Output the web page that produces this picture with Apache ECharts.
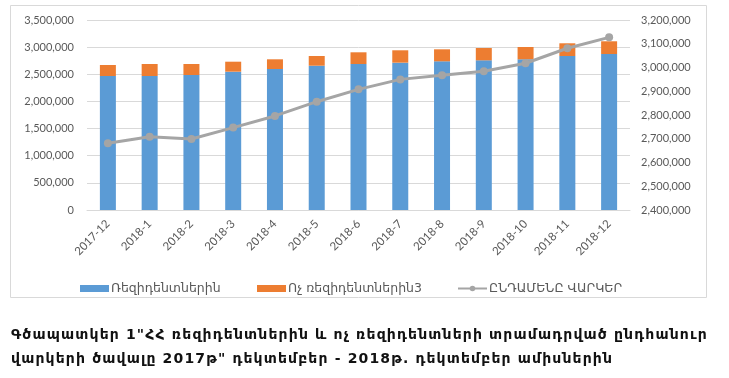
<!DOCTYPE html>
<html><head><meta charset="utf-8">
<script src="https://cdn.jsdelivr.net/npm/echarts@6/dist/echarts.min.js"></script>
<style>
html,body{margin:0;padding:0;background:#fff}
#wrap{position:relative;width:729px;height:378px}
#c{position:absolute;left:0;top:0;width:729px;height:378px}
.cap{position:absolute;left:11px;font:bold 14px "DejaVu Sans",sans-serif;color:#111;white-space:nowrap;letter-spacing:1.15px}
</style>
</head><body><div id="wrap"><div id="c"></div>
<div class="cap" id="cap1" style="top:326px"></div>
<div class="cap" id="cap2" style="top:350px"></div>
</div>
<script>
const categories = ['2017-12','2018-1','2018-2','2018-3','2018-4','2018-5','2018-6','2018-7','2018-8','2018-9','2018-10','2018-11','2018-12'];
const residents = [2468000,2468000,2487000,2548000,2597000,2658000,2689000,2714000,2739000,2757000,2776000,2837000,2874000];
const nonResidents = [203000,222000,203000,184000,179000,179000,216000,228000,221000,227000,227000,234000,234000];
const totalLoans = [2681000,2708000,2699000,2747000,2796000,2856000,2908000,2950000,2967000,2984000,3018000,3081000,3127000];
const seriesNames = ['Ռեզիդենտներին','Ոչ ռեզիդենտներին3','ԸՆԴԱՄԵՆԸ ՎԱՐԿԵՐ'];
const captionLines = ['Գծապատկեր 1"ՀՀ ռեզիդենտներին և ոչ ռեզիդենտների տրամադրված ընդհանուր','վարկերի ծավալը 2017թ" դեկտեմբեր - 2018թ. դեկտեմբեր ամիսներին'];

document.getElementById('cap1').textContent = captionLines[0];
document.getElementById('cap2').textContent = captionLines[1];

const fmt = v => v.toLocaleString('en-US');
const FONT = 'Lato, "DejaVu Sans", sans-serif';
const chart = echarts.init(document.getElementById('c'), null, {renderer:'canvas'});
const legendBase = {orient:'horizontal', top:282, padding:0, itemWidth:29, itemHeight:7, itemGap:0,
  textStyle:{color:'#595959', fontSize:12.5, fontFamily:'"DejaVu Sans", sans-serif', padding:[0,0,0,-3]}};
chart.setOption({
  animation:false,
  textStyle:{fontFamily:FONT},
  grid:{left:87, right:99, top:20, bottom:168},
  graphic:[
    {type:'rect', shape:{x:10.5,y:5.5,width:696,height:292}, style:{fill:'none', stroke:'#D9D9D9', lineWidth:1}, z:-1}
  ],
  legend:[
    Object.assign({}, legendBase, {left:80, data:[{name:seriesNames[0], icon:'rect'}]}),
    Object.assign({}, legendBase, {left:257, data:[{name:seriesNames[1], icon:'rect'}]}),
    Object.assign({}, legendBase, {left:457, data:[seriesNames[2]]})
  ],
  xAxis:{type:'category', data:categories,
    axisLine:{lineStyle:{color:'#D9D9D9'}}, axisTick:{show:false},
    axisLabel:{rotate:45, color:'#595959', fontSize:11.5, margin:12, fontFamily:FONT}},
  yAxis:[
    {type:'value', min:0, max:3500000, interval:500000,
      axisLabel:{formatter:fmt, color:'#595959', fontSize:11, margin:13, fontFamily:FONT},
      splitLine:{lineStyle:{color:'#D9D9D9'}}, axisLine:{show:false}, axisTick:{show:false}},
    {type:'value', min:2400000, max:3200000, interval:100000,
      axisLabel:{formatter:fmt, color:'#595959', fontSize:11, margin:11, fontFamily:FONT},
      splitLine:{show:false}, axisLine:{show:false}, axisTick:{show:false}}
  ],
  series:[
    {name:seriesNames[0], type:'bar', stack:'s', barWidth:16, data:residents, itemStyle:{color:'#5B9BD5'}},
    {name:seriesNames[1], type:'bar', stack:'s', barWidth:16, data:nonResidents, itemStyle:{color:'#ED7D31'}},
    {name:seriesNames[2], type:'line', yAxisIndex:1, data:totalLoans, symbol:'circle', symbolSize:8,
      lineStyle:{color:'#A5A5A5', width:3}, itemStyle:{color:'#A5A5A5'}}
  ]
});
</script></body></html>
